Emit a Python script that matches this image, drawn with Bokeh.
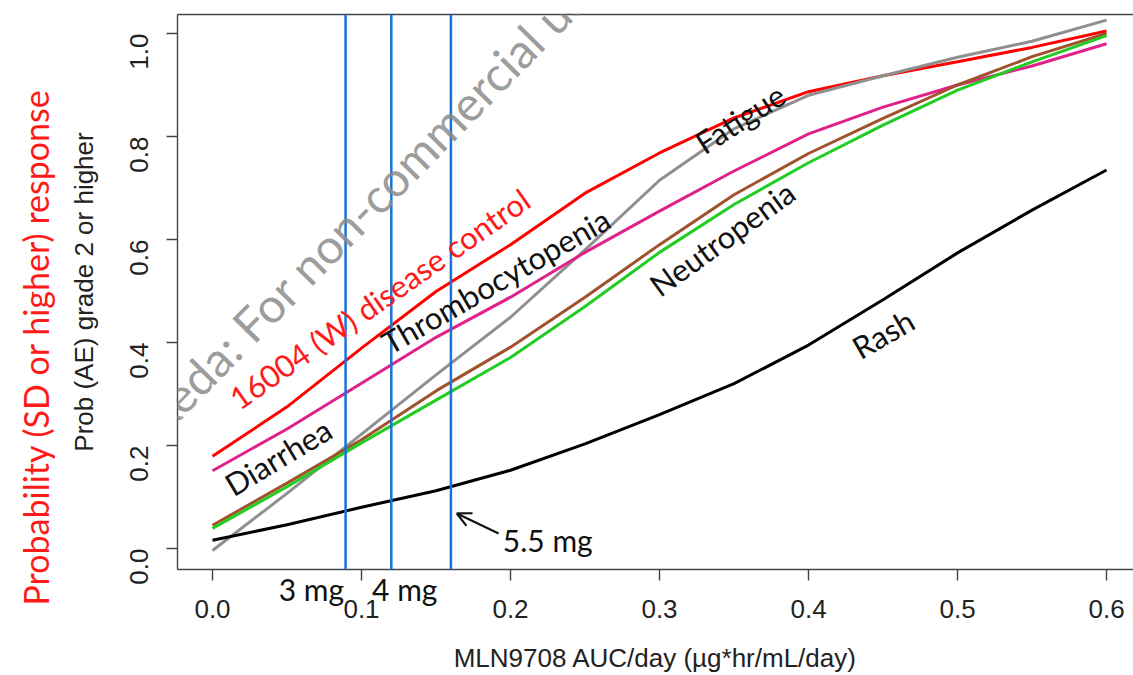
import math
from bokeh.plotting import figure
from bokeh.models import (Range1d, LinearAxis, FixedTicker, Span, Label, Arrow,
                          OpenHead, NumeralTickFormatter, Title)
from bokeh.embed import file_html
from bokeh.resources import INLINE

# ---------------- data ----------------
auc = [0.0, 0.05, 0.10, 0.15, 0.20, 0.25, 0.30, 0.35, 0.40, 0.45, 0.50, 0.55, 0.60]
disease_control = [0.179, 0.275, 0.389, 0.499, 0.590, 0.690, 0.768, 0.836, 0.887, 0.918, 0.945, 0.973, 1.005]
fatigue = [-0.004, 0.107, 0.222, 0.337, 0.449, 0.580, 0.715, 0.815, 0.880, 0.918, 0.954, 0.985, 1.026]
thrombocytopenia = [0.151, 0.232, 0.321, 0.410, 0.488, 0.575, 0.655, 0.733, 0.805, 0.857, 0.900, 0.937, 0.980]
diarrhea = [0.045, 0.127, 0.211, 0.306, 0.391, 0.488, 0.590, 0.687, 0.767, 0.835, 0.900, 0.955, 1.000]
neutropenia = [0.039, 0.120, 0.205, 0.288, 0.371, 0.470, 0.575, 0.668, 0.749, 0.822, 0.890, 0.945, 0.996]
rash = [0.016, 0.046, 0.080, 0.112, 0.152, 0.203, 0.260, 0.320, 0.395, 0.483, 0.574, 0.657, 0.735]

dose_auc = [0.0893, 0.120, 0.160]
dose_labels = ["3 mg", "4 mg", "5.5 mg"]
dose_label_x = [0.0664, 0.129]

x_ticks = [0.0, 0.1, 0.2, 0.3, 0.4, 0.5, 0.6]
y_ticks = [0.0, 0.2, 0.4, 0.6, 0.8, 1.0]

x_title = "MLN9708 AUC/day (\u00b5g*hr/mL/day)"
y_title = "Prob (AE) grade 2 or higher"
y2_title = "Probability (SD or higher) response"
watermark = "Property of Takeda: For non-commercial use"

AX_FONT = "Liberation Sans"
ANN_FONT = "Lato"
AX_COL = "#444444"

p = figure(width=1133, height=675,
           x_range=Range1d(-0.0235, 0.6181), y_range=Range1d(-0.0408, 1.0369),
           output_backend="svg", toolbar_location=None,
           min_border_left=177, min_border_right=0, min_border_top=14, min_border_bottom=106)
p.grid.visible = False
p.outline_line_color = None
p.background_fill_color = "white"

# ---- bottom axis A: box edge, tick marks (as minor ticks) and the "3 mg" / "4 mg" labels
ax_a = p.xaxis[0]
ax_a.ticker = FixedTicker(ticks=dose_label_x, minor_ticks=x_ticks)
ax_a.axis_line_color = AX_COL
ax_a.axis_line_width = 1.4
ax_a.major_tick_line_color = None
ax_a.major_tick_in = 0
ax_a.major_tick_out = 0
ax_a.minor_tick_line_color = AX_COL
ax_a.minor_tick_line_width = 1.4
ax_a.minor_tick_in = 0
ax_a.minor_tick_out = 11
ax_a.major_label_overrides = {dose_label_x[0]: dose_labels[0], dose_label_x[1]: dose_labels[1]}
ax_a.major_label_text_font = ANN_FONT
ax_a.major_label_text_font_size = "30px"
ax_a.major_label_text_color = "#111111"
ax_a.major_label_standoff = -10

# ---- bottom axis B: numeric tick labels and the x title
ax_b = LinearAxis(ticker=FixedTicker(ticks=x_ticks), formatter=NumeralTickFormatter(format="0.0"),
                  axis_line_color=None, major_tick_line_color=None, minor_tick_line_color=None,
                  major_tick_in=0, major_tick_out=0,
                  major_label_text_font=AX_FONT, major_label_text_font_size="26px",
                  major_label_text_color="#222222", major_label_standoff=-10,
                  axis_label=x_title, axis_label_text_font=AX_FONT,
                  axis_label_text_font_size="26px", axis_label_text_font_style="normal",
                  axis_label_text_color="#222222", axis_label_standoff=22)
p.add_layout(ax_b, "below")

# ---- left axis
ay = p.yaxis[0]
ay.ticker = FixedTicker(ticks=y_ticks)
ay.formatter = NumeralTickFormatter(format="0.0")
ay.axis_line_color = AX_COL
ay.axis_line_width = 1.4
ay.major_tick_line_color = AX_COL
ay.major_tick_line_width = 1.4
ay.major_tick_in = 0
ay.major_tick_out = 11
ay.minor_tick_line_color = None
ay.major_label_orientation = math.pi / 2
ay.major_label_text_font = AX_FONT
ay.major_label_text_font_size = "26px"
ay.major_label_text_color = "#222222"
ay.major_label_standoff = 27
ay.axis_label = y_title
ay.axis_label_text_font = AX_FONT
ay.axis_label_text_font_size = "26px"
ay.axis_label_text_font_style = "normal"
ay.axis_label_text_color = "#222222"
ay.axis_label_standoff = 20

# outer (red) y title, as a side-panel title starting near the bottom like the reference
p.add_layout(Title(text=y2_title, align="left", offset=-36, standoff=20,
                   text_color="#ff1a1a", text_font=ANN_FONT, text_font_size="34px",
                   text_font_style="normal"), "left")

# top border of the box
top_axis = LinearAxis(ticker=FixedTicker(ticks=[]), axis_line_color=AX_COL,
                      axis_line_width=1.4, major_tick_line_color=None,
                      minor_tick_line_color=None, major_label_text_font_size="0px")
p.add_layout(top_axis, "above")

# dose reference lines
for d in dose_auc:
    p.add_layout(Span(location=d, dimension="height", line_color="#1874d6", line_width=2.5))

# curves
series = [
    (disease_control, "#ff0000"),
    (fatigue, "#8f8f8f"),
    (thrombocytopenia, "#e0218a"),
    (diarrhea, "#a0522d"),
    (neutropenia, "#22cc22"),
    (rash, "#000000"),
]
for ys, col in series:
    p.line(auc, ys, line_color=col, line_width=3)

# curve labels
def lab(x, y, text, deg, color="#111111", size="31px", align="center"):
    p.add_layout(Label(x=x, y=y, text=text, angle=math.radians(deg),
                       text_align=align, text_baseline="middle",
                       text_font=ANN_FONT, text_font_size=size, text_color=color))

lab(0.112, 0.485, "16004 (W) disease control", 35, color="#ff1a1a")
lab(0.190, 0.520, "Thrombocytopenia", 30)
lab(0.044, 0.178, "Diarrhea", 31)
lab(0.354, 0.835, "Fatigue", 33)
lab(0.342, 0.602, "Neutropenia", 36)
lab(0.450, 0.417, "Rash", 30)
lab(0.225, 0.017, dose_labels[2], 0, size="30px")
p.add_layout(Arrow(end=OpenHead(size=14, line_width=2.2, line_color="#111111"),
                   line_width=2.2, line_color="#111111",
                   x_start=0.192, y_start=0.029, x_end=0.164, y_end=0.068))

# watermark
p.add_layout(Label(x=-0.178, y=-0.161, text=watermark, angle=math.radians(45.5),
                   text_align="left", text_baseline="alphabetic",
                   text_font=ANN_FONT, text_font_size="48px",
                   text_color="#8c8c8c", text_alpha=0.85))

open("out.html", "w").write(file_html(p, INLINE))
